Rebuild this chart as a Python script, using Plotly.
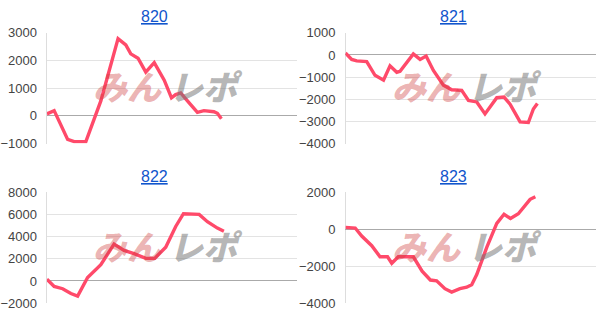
import plotly.graph_objects as go

titles = ["820", "821", "822", "823"]

x820 = [0, 2.9, 8.3, 10.9, 15.6, 21.6, 28.5, 31.6, 33.6, 36.5, 39.6, 43, 47, 49.9, 51.6, 53.6, 56.9, 60.3, 62.9, 66.9, 68.3, 69.9]
y820 = [75, 190, -850, -930, -930, 540, 2790, 2560, 2240, 2080, 1580, 1925, 1290, 650, 770, 830, 480, 130, 190, 150, 95, -100]

x821 = [0, 2.5, 4.5, 8.5, 11.8, 15.2, 17.8, 20.5, 21.8, 27.1, 29.8, 32.2, 35.1, 39.1, 42.4, 46.4, 49.1, 52.4, 55.7, 60.4, 63.3, 65.7, 69.7, 73, 75, 76.6]
y821 = [90, -200, -270, -300, -920, -1140, -490, -780, -740, 45, -200, -50, -700, -1360, -1570, -1600, -2050, -2120, -2660, -1930, -1900, -2220, -3020, -3050, -2440, -2190]

x822 = [0, 2.9, 6.3, 9.6, 12.3, 16.3, 21.6, 26.9, 30.9, 34.9, 39.6, 43.2, 47.6, 51.6, 54.7, 61, 64.3, 68.3, 70.9]
y822 = [160, -500, -700, -1130, -1360, 310, 1460, 3330, 2760, 2470, 2040, 2040, 3050, 4920, 6070, 6010, 5350, 4770, 4490]

x823 = [0, 3.9, 6.5, 10.5, 13.8, 16.8, 18.5, 21.1, 27.1, 30.6, 33.9, 36.4, 39.7, 42.4, 45.7, 48.4, 50.4, 52.4, 56.4, 60.4, 63.3, 65.9, 69, 73.7, 75.8]
y823 = [100, 65, -370, -890, -1490, -1490, -1840, -1490, -1490, -2270, -2750, -2790, -3220, -3400, -3220, -3140, -3000, -2450, -980, 320, 810, 580, 840, 1620, 1760]

xs = [x820, x821, x822, x823]
ys = [y820, y821, y822, y823]
yranges = [[-1000, 3000], [-4000, 1000], [-2000, 8000], [-4000, 2000]]
dticks = [1000, 1000, 2000, 2000]

W, H = 603, 335
xdoms = [[46 / W, 296 / W], [345 / W, 596 / W]]
ydoms = [[1 - 143 / H, 1 - 27 / H], [1 - 310 / H, 1 - 194 / H]]

fig = go.Figure()
layout = dict(
    width=W, height=H, margin=dict(l=0, r=0, t=0, b=0),
    paper_bgcolor="white", plot_bgcolor="white", showlegend=False,
    font=dict(family="Arial, Liberation Sans, sans-serif", size=12, color="#444444"),
)
annotations = []
for i in range(4):
    r, c = divmod(i, 2)
    sfx = "" if i == 0 else str(i + 1)
    fig.add_trace(go.Scatter(
        x=xs[i], y=ys[i], mode="lines",
        line=dict(color="#ff4a6a", width=3.4),
        xaxis="x" + sfx, yaxis="y" + sfx, hoverinfo="skip",
    ))
    layout["xaxis" + sfx] = dict(
        domain=xdoms[c], range=[0, 100], showgrid=False, showticklabels=False,
        zeroline=True, zerolinecolor="#dddddd", zerolinewidth=1,
        anchor="y" + sfx, fixedrange=True,
    )
    layout["yaxis" + sfx] = dict(
        domain=ydoms[r], range=yranges[i], dtick=dticks[i], tick0=0,
        showgrid=True, gridcolor="#e3e3e3", gridwidth=1,
        zeroline=True, zerolinecolor="#aaaaaa", zerolinewidth=1,
        ticks="", ticklabelstandoff=9, anchor="x" + sfx,
        tickfont=dict(size=13, color="#444444"), fixedrange=True,
    )
    # title
    annotations.append(dict(
        text="<span style='text-decoration:underline'>" + titles[i] + "</span>",
        xref="x%s domain" % sfx, yref="paper",
        x=0.43, y=1 - (10 if r == 0 else 177) / H,
        xanchor="center", yanchor="middle", showarrow=False,
        font=dict(size=16, color="#1155cc", family="Arial, Liberation Sans, sans-serif"),
    ))
    # watermark
    annotations.append(dict(
        text="<i>みん</i>", xref="x%s domain" % sfx, yref="y%s domain" % sfx,
        x=0.47, y=0.52, xanchor="right", yanchor="middle", showarrow=False,
        font=dict(size=34, color="rgba(205,60,60,0.4)", family="Noto Sans CJK JP", weight=900),
    ))
    annotations.append(dict(
        text="<i>レポ</i>", xref="x%s domain" % sfx, yref="y%s domain" % sfx,
        x=0.48, y=0.52, xanchor="left", yanchor="middle", showarrow=False,
        font=dict(size=34, color="rgba(120,120,120,0.55)", family="Noto Sans CJK JP", weight=900),
    ))
layout["annotations"] = annotations
fig.update_layout(**layout)
fig.write_html("out.html")
